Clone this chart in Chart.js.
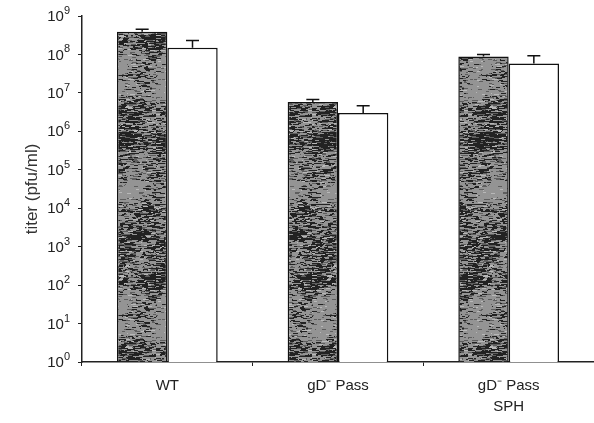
<!DOCTYPE html>
<html>
<head>
<meta charset="utf-8">
<script src="https://cdn.jsdelivr.net/npm/chart.js@4.4.1/dist/chart.umd.min.js"></script>
<style>
  html, body { margin: 0; padding: 0; background: #fff; overflow: hidden; }
  #wrap { width: 594px; height: 423px; }
</style>
</head>
<body>
<div id="wrap"><canvas id="titerChart"></canvas></div>
<script>
// data
var categories = ['WT', ['gD\u207B Pass'], ['gD\u207B Pass', 'SPH']];
var grayValues = [3.9e8, 5.8e6, 8.8e7];
var grayErrTop = [4.5e8, 6.7e6, 1.0e8];
var whiteValues = [1.5e8, 3.0e6, 5.8e7];
var whiteErrTop = [2.3e8, 4.6e6, 9.3e7];
var yTicks = [1, 10, 100, 1e3, 1e4, 1e5, 1e6, 1e7, 1e8, 1e9];

var fontFamily = '"Liberation Sans", Arial, sans-serif';

// mottled grey texture for the first series (just a fill style)
function makeSpeckle() {
    var c = document.createElement('canvas');
    c.width = 52; c.height = 240;
    var ctx = c.getContext('2d');
    var seed = 987;
    function rnd() { seed = (seed * 1103515245 + 12345) % 2147483648; return seed / 2147483648; }
    ctx.fillStyle = '#8e8e8e';
    ctx.fillRect(0, 0, c.width, c.height);
    for (var y = 0; y < c.height; y++) {
        var x = 0;
        var dark = 0.32 + 0.22 * Math.sin(y / 17) + 0.1 * Math.sin(y / 5.3);
        while (x < c.width) {
            var run = 1 + Math.floor(rnd() * 5);
            var shift = 0.15 * Math.sin((x + y * 0.4) / 9);
            var r = rnd();
            var col;
            if (r < dark + shift) col = '#222';
            else if (r < dark + shift + 0.15) col = '#5e5e5e';
            else if (r < 0.96) col = '#949494';
            else col = '#b8b8b8';
            ctx.fillStyle = col;
            ctx.fillRect(x, y, run, 1);
            x += run;
        }
    }
    return document.getElementById('titerChart').getContext('2d').createPattern(c, 'repeat');
}

var errorBars = {
    id: 'errorBars',
    afterDatasetsDraw: function (chart) {
        var ctx = chart.ctx;
        var yScale = chart.scales.y;
        ctx.save();
        ctx.strokeStyle = '#111';
        ctx.lineWidth = 1.5;
        chart.data.datasets.forEach(function (ds, i) {
            var meta = chart.getDatasetMeta(i);
            meta.data.forEach(function (bar, j) {
                var yTop = yScale.getPixelForValue(ds.errTop[j]);
                var yVal = yScale.getPixelForValue(ds.data[j]);
                ctx.beginPath();
                ctx.moveTo(bar.x, yVal);
                ctx.lineTo(bar.x, yTop);
                ctx.moveTo(bar.x - 6.5, yTop);
                ctx.lineTo(bar.x + 6.5, yTop);
                ctx.stroke();
            });
        });
        ctx.restore();
    }
};

// power-of-ten labels with a real raised exponent
var powerLabels = {
    id: 'powerLabels',
    afterDraw: function (chart) {
        var ctx = chart.ctx;
        var yScale = chart.scales.y;
        var right = yScale.right - 12;
        ctx.save();
        ctx.fillStyle = '#222';
        ctx.textBaseline = 'middle';
        yScale.ticks.forEach(function (t) {
            var y = yScale.getPixelForValue(t.value);
            var exp = String(Math.round(Math.log10(t.value)));
            ctx.font = '11px ' + fontFamily;
            var ew = ctx.measureText(exp).width;
            ctx.textAlign = 'left';
            ctx.fillText(exp, right - ew, y - 5);
            ctx.font = '15px ' + fontFamily;
            ctx.textAlign = 'right';
            ctx.fillText('10', right - ew, y + 1);
        });
        ctx.restore();
    }
};

new Chart('titerChart', {
    type: 'bar',
    data: {
        labels: categories,
        datasets: [
            {
                label: 'gray',
                data: grayValues,
                errTop: grayErrTop,
                backgroundColor: makeSpeckle(),
                borderColor: '#111',
                borderWidth: 1.5,
                categoryPercentage: 0.59,
                barPercentage: 1.0
            },
            {
                label: 'white',
                data: whiteValues,
                errTop: whiteErrTop,
                backgroundColor: '#ffffff',
                borderColor: '#111',
                borderWidth: 1.5,
                categoryPercentage: 0.59,
                barPercentage: 1.0
            }
        ]
    },
    options: {
        responsive: true,
        maintainAspectRatio: false,
        animation: false,
        layout: { padding: { top: 16, right: 0, left: 22, bottom: 0 } },
        plugins: {
            legend: { display: false },
            tooltip: { enabled: false }
        },
        scales: {
            x: {
                grid: { display: true, drawOnChartArea: false, tickLength: 4, color: '#222', offset: true },
                border: { color: '#222', width: 1.5 },
                ticks: {
                    color: '#222',
                    padding: 10,
                    font: { family: fontFamily, size: 15, lineHeight: 1.35 },
                    maxRotation: 0
                },
                afterFit: function (scale) { scale.height = 61; }
            },
            y: {
                type: 'logarithmic',
                min: 1,
                max: 1e9,
                afterBuildTicks: function (scale) {
                    scale.ticks = yTicks.map(function (v) { return { value: v }; });
                },
                ticks: { display: false },
                grid: { display: true, drawOnChartArea: false, tickLength: 4, color: '#222' },
                border: { color: '#222', width: 1.5 },
                title: {
                    display: true,
                    text: 'titer (pfu/ml)',
                    color: '#333',
                    font: { family: fontFamily, size: 17 },
                    padding: { top: 0, bottom: 0 }
                },
                afterFit: function (scale) { scale.width = 60; }
            }
        }
    },
    plugins: [errorBars, powerLabels]
});
</script>
</body>
</html>
